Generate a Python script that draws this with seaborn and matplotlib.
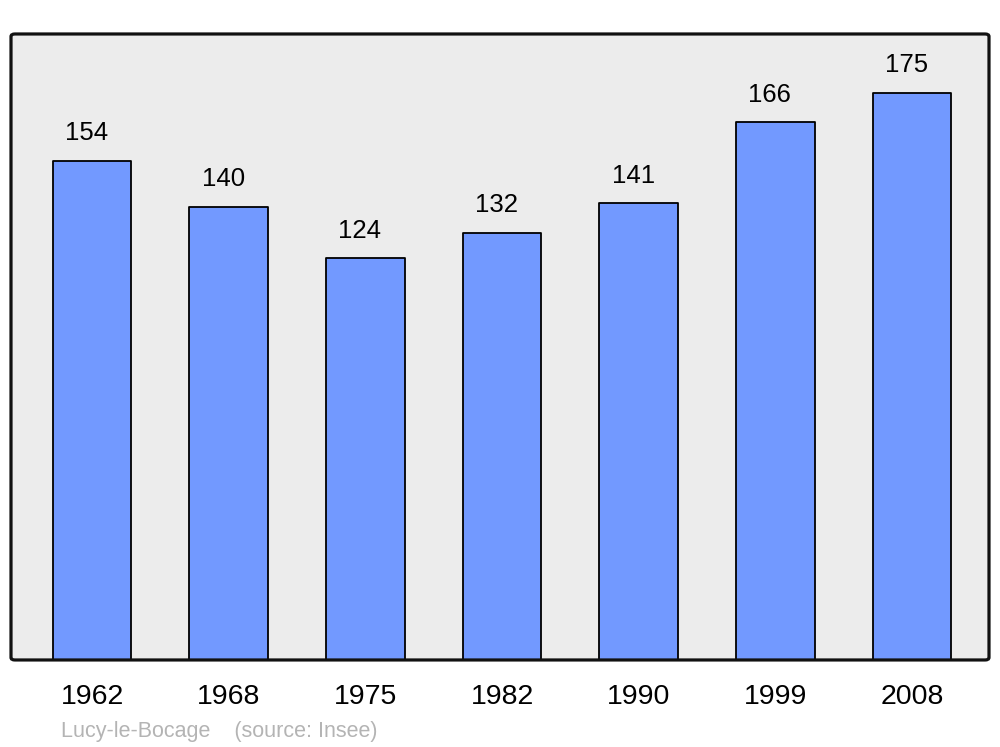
import matplotlib
matplotlib.use("Agg")
import matplotlib.pyplot as plt
from matplotlib.patches import FancyBboxPatch
import pandas as pd
import seaborn as sns

# population data
years = ["1962", "1968", "1975", "1982", "1990", "1999", "2008"]
population = [154, 140, 124, 132, 141, 166, 175]
town = "Lucy-le-Bocage"
source = "(source: Insee)"

df = pd.DataFrame({"year": years, "population": population})

sns.set_style("white")
plt.rcParams["font.family"] = ["Liberation Sans", "DejaVu Sans"]
plt.rcParams["text.color"] = "black"
plt.rcParams["xtick.color"] = "black"

fig = plt.figure(figsize=(10, 7.47), dpi=100)
ax = fig.add_axes([0.011, 0.1165, 0.978, 0.838])

sns.barplot(data=df, x="year", y="population", color="#7299ff", saturation=1,
            width=0.575, edgecolor="black", linewidth=1.3, ax=ax, zorder=2)
for p in ax.patches:
    p.set_joinstyle("round")

for i, v in enumerate(population):
    ax.annotate(str(v), (i, v), xytext=(-4, 15), textcoords="offset points",
                ha="center", va="baseline", fontsize=18.5, color="black")

ax.set_xlim(-0.593, 6.563)
ax.set_ylim(0, 193.3)
ax.set_xlabel("")
ax.set_ylabel("")
ax.set_yticks([])
ax.tick_params(axis="x", length=0, pad=17, labelsize=20.5, labelcolor="black")
for s in ax.spines.values():
    s.set_visible(False)

# rounded frame and background
ax.patch.set_visible(False)
bg = FancyBboxPatch((0, 0), 1, 1, boxstyle="round,pad=0,rounding_size=0.004",
                    transform=ax.transAxes, facecolor="#ececec", edgecolor="none",
                    zorder=0, clip_on=False)
frame = FancyBboxPatch((0, 0), 1, 1, boxstyle="round,pad=0,rounding_size=0.004",
                       transform=ax.transAxes, facecolor="none", edgecolor="#111111",
                       linewidth=2.3, zorder=5, clip_on=False)
ax.add_patch(bg)
ax.add_patch(frame)

fig.text(0.061, 0.014, town + "    " + source, color="#b4b4b4", fontsize=15.5,
         ha="left", va="baseline")

fig.savefig("out.png", dpi=100)
